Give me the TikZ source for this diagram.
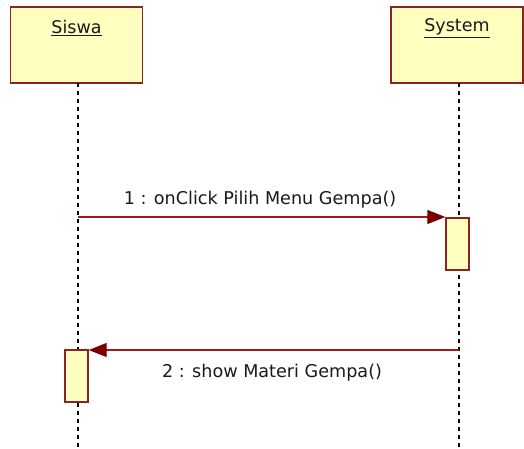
\documentclass[tikz,border=0pt]{standalone}
\usepackage{fontspec}
\setmainfont{DejaVu Sans}
\usetikzlibrary{arrows.meta}
\definecolor{boxfill}{HTML}{FFFFC0}
\definecolor{boxline}{HTML}{8B2323}
\definecolor{msgline}{HTML}{A01818}
\definecolor{tipcol}{HTML}{7A0000}
\begin{document}
\begin{tikzpicture}[x=1pt,y=-1pt,
  actor/.style={draw=boxline,line width=1.6pt,fill=boxfill,minimum width=132pt,minimum height=76pt,inner sep=0pt},
  actlabel/.style={font=\fontsize{17.5}{20}\selectfont,text=black!90},
  activ/.style={draw=boxline,line width=1.4pt,fill=boxfill,minimum width=23pt,minimum height=52pt,inner sep=0pt},
  lifeline/.style={draw=black,line width=1.8pt,dash pattern=on 4pt off 4pt},
  msg/.style={draw=msgline,line width=1.3pt,-{Triangle[length=18pt,width=14pt,fill=tipcol,color=tipcol]}},
  msglabel/.style={font=\fontsize{17.6}{20}\selectfont,text=black!90}]
\useasboundingbox (0,0) rectangle (524,449);
\node[actor] (siswa) at (76.5,45) {};
\node[actor] (system) at (457,45) {};
\node[actlabel] (siswaL) at (76.5,28) {\underline{Siswa}};
\node[actlabel] (systemL) at (457,28) {\underline{System}};
\coordinate (sisEnd) at (78,449);
\coordinate (sysEnd) at (459,449);
\draw[lifeline] (78,83) -- (sisEnd);
\draw[lifeline] (459,83) -- (sysEnd);
\node[activ] (act1) at (457.5,244) {};
\node[activ] (act2) at (76.5,376) {};
\coordinate (m1s) at (78,217);
\coordinate (m2s) at (459,350);
\draw[msg] (m1s) -- (act1.north west |- m1s);
\draw[msg] (m2s) -- (act2.north east |- m2s);
\node[msglabel] (l1) at (260,200) {1 : onClick Pilih Menu Gempa()};
\node[msglabel] (l2) at (272,373) {2 : show Materi Gempa()};
\end{tikzpicture}
\end{document}
